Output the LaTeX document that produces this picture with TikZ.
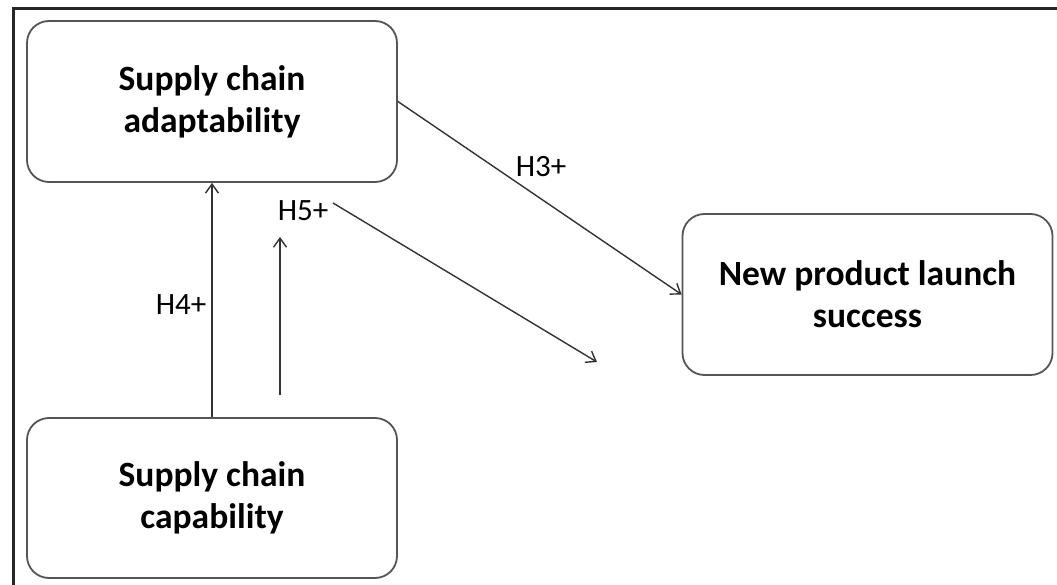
\documentclass[tikz,border=0pt]{standalone}
\usepackage{fontspec}
\setmainfont{Carlito}
\usetikzlibrary{arrows.meta}
\definecolor{boxline}{HTML}{555555}
\definecolor{arrline}{HTML}{333333}
\tikzset{
  box/.style={draw=boxline, line width=1.8pt, rounded corners=22pt, fill=white,
    minimum width=370pt, minimum height=161pt, inner sep=0pt, align=center,
    font=\fontsize{35.5}{42}\selectfont\bfseries},
  hlabel/.style={inner sep=0pt, font=\fontsize{31}{37}\selectfont},
  conn/.style={draw=arrline, line width=1.4pt, -{Straight Barb[length=9pt,width=13pt,line width=1.4pt]}},
  frameline/.style={draw=black!85, line width=3pt}
}
\begin{document}
\begin{tikzpicture}[x=1pt,y=-1pt]
\useasboundingbox (0,0) rectangle (1057,585);
\fill[white] (0,0) rectangle (1057,585);
% frame (top and left edges visible)
\coordinate (ftl) at (13,9);
\coordinate (ftr) at (1057,9);
\coordinate (fbl) at (13,585);
\draw[frameline] (ftr) -- (ftl) -- (fbl);
% boxes
\node[box] (adapt) at (212,101.5) {Supply chain\\adaptability};
\node[box] (npl) at (867.5,294.5) {New product launch\\success};
\node[box, minimum height=160pt] (cap) at (212,498) {Supply chain\\capability};
% connectors
\draw[conn] (adapt.east) -- (npl.west);
\draw[conn] (cap.north) -- (adapt.south);
\coordinate (h5s) at (280,395);
\coordinate (h5e) at (280,237);
\draw[conn] (h5s) -- (h5e);
\coordinate (d5s) at (333,203);
\coordinate (d5e) at (597,362);
\draw[conn] (d5s) -- (d5e);
% labels
\node[hlabel] (l3) at (541,167) {H3+};
\node[hlabel] (l4) at (181,305) {H4+};
\node[hlabel] (l5) at (303,211) {H5+};
\end{tikzpicture}
\end{document}
